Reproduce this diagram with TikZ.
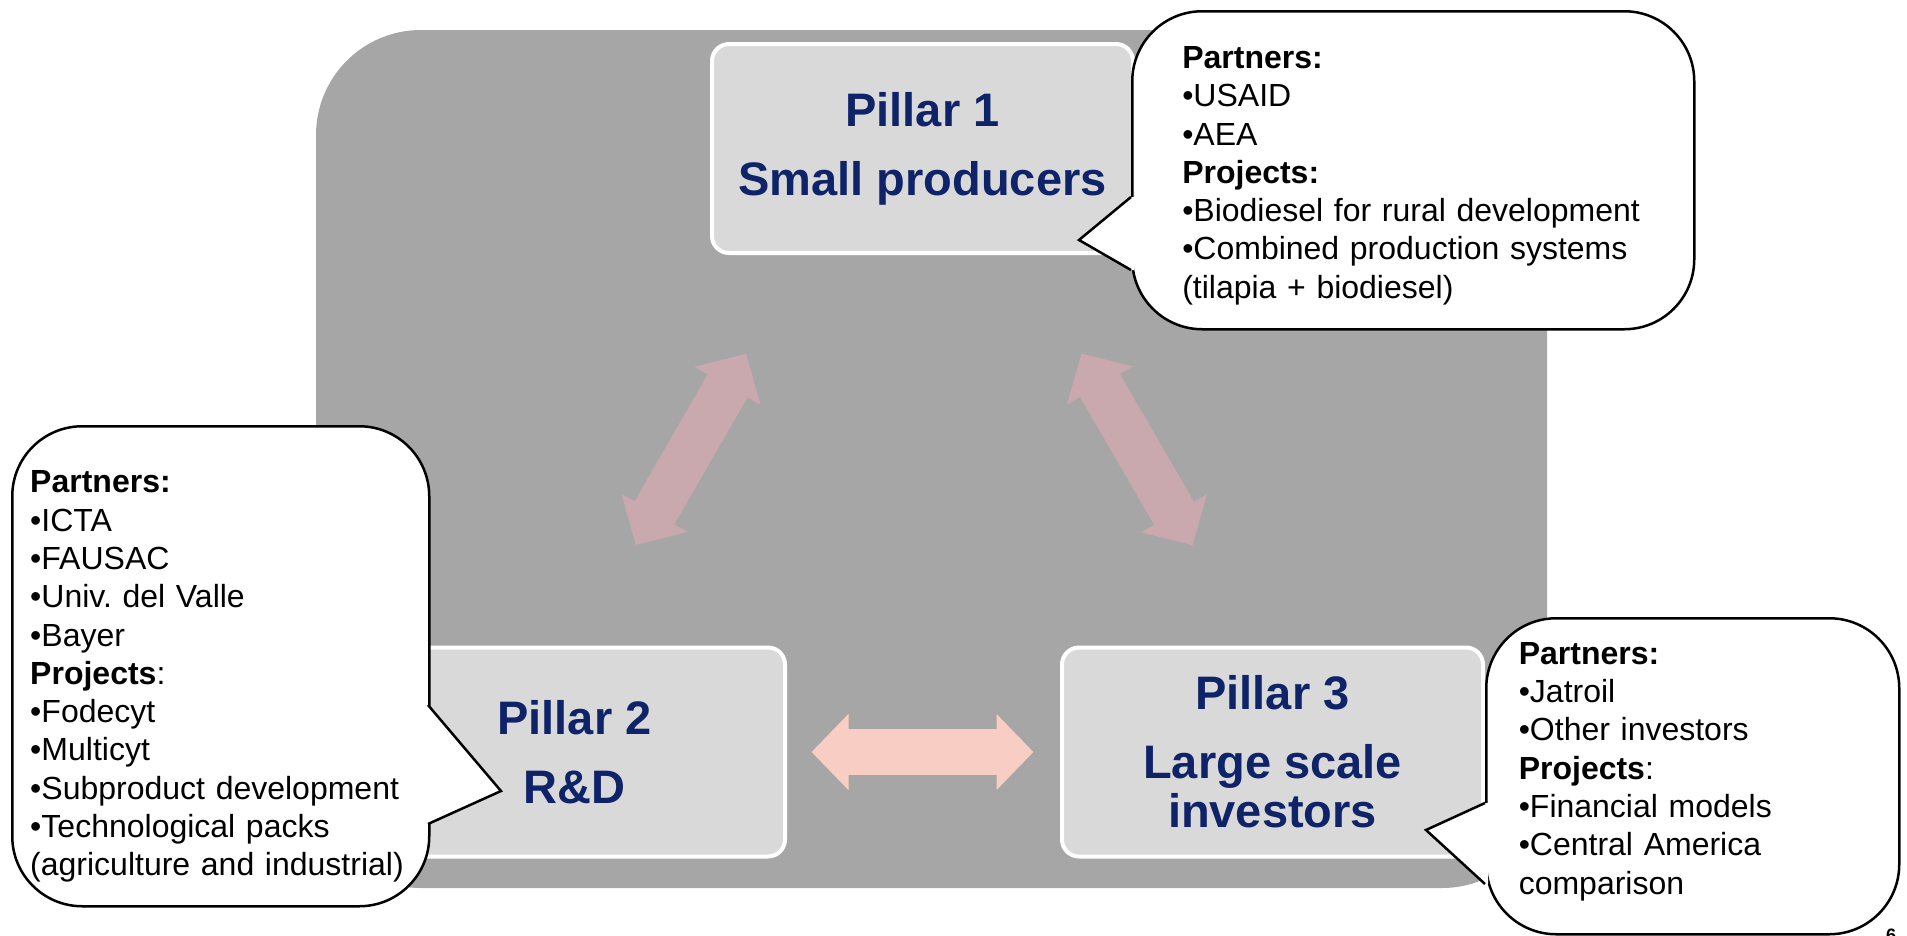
\documentclass[tikz,border=0pt]{standalone}
\usepackage{fontspec}
\setmainfont{Liberation Sans}
\usetikzlibrary{arrows.meta}
\frenchspacing

\definecolor{slidegray}{RGB}{166,166,166}
\definecolor{pillarfill}{RGB}{217,217,217}
\definecolor{pillartext}{RGB}{14,35,104}
\definecolor{linkpink}{RGB}{201,168,174}
\definecolor{linkpeach}{RGB}{248,205,195}

\tikzset{
  pillar/.style={fill=pillarfill, draw=white, line width=4pt, rounded corners=17pt,
    minimum width=421pt, minimum height=209pt, align=center, text=pillartext,
    font=\bfseries\fontsize{47}{69}\selectfont},
  callout/.style={draw=black, fill=white, line width=2.5pt, rounded corners=70pt,
    anchor=north west, align=left, inner ysep=0pt, font=\fontsize{32}{38.3}\selectfont},
  pointer/.style={draw=black, line width=2.5pt},
  linkarrow/.style={line width=46pt,
    {Triangle[length=37pt,width=74pt]}-{Triangle[length=37pt,width=74pt]},
    shorten <=237pt, shorten >=239pt},
}

\begin{document}
\begin{tikzpicture}[x=1pt,y=-1pt]
    \useasboundingbox (0,0) rectangle (1907,935);
    \fill[white] (0,0) rectangle (1907,935);
    \fill[slidegray, rounded corners=105pt] (316,30) rectangle (1547,888);

    % pillars
    \node[pillar] (p1) at (922.5,148.5) {Pillar 1\\Small producers};
    \node[pillar] (p2) at (574.5,752) {Pillar 2\\R\&D};
    \node[pillar] (p3) at (1272.5,752) {Pillar 3\\Large scale\\[-20pt]investors};

    % links between pillars
    \draw[linkarrow, linkpink] ([xshift=-58pt]p1.center) -- ([xshift=-58pt]p2.center);
    \draw[linkarrow, linkpink] ([xshift=40pt]p1.center) -- ([xshift=40pt]p3.center);
    \draw[linkarrow, linkpeach] (p2.center) -- (p3.center);

    % callouts
    \node[callout, minimum width=562pt, minimum height=318pt, inner xsep=50pt, text width=462pt] (c1) at (1131,10)
        {\rule{0pt}{32.9pt}\textbf{Partners:}\\
         •USAID\\
         •AEA\\
         \textbf{Projects:}\\
         •Biodiesel for rural development\\
         •Combined production systems\\
         (tilapia + biodiesel)};
    \coordinate (c1a) at (1131,197);
    \coordinate (c1t) at (1079,240);
    \coordinate (c1b) at (1131,270);
    \fill[white] ([xshift=3pt]c1a) -- (c1a) -- (c1t) -- (c1b) -- ([xshift=3pt]c1b) -- cycle;
    \draw[pointer] (c1a) -- (c1t) -- (c1b);

    \node[callout, minimum width=417pt, minimum height=480pt, inner xsep=18pt, text width=381pt] (c2) at (11,425)
        {\rule{0pt}{42.9pt}\textbf{Partners:}\\
         •ICTA\\
         •FAUSAC\\
         •Univ. del Valle\\
         •Bayer\\
         \textbf{Projects}:\\
         •Fodecyt\\
         •Multicyt\\
         •Subproduct development\\
         •Technological packs\\
         (agriculture and industrial)};
    \coordinate (c2a) at (428,705);
    \coordinate (c2t) at (501,791);
    \coordinate (c2b) at (428,824);
    \fill[white] ([xshift=-3pt]c2a) -- (c2a) -- (c2t) -- (c2b) -- ([xshift=-3pt]c2b) -- cycle;
    \draw[pointer] (c2a) -- (c2t) -- (c2b);

    \node[callout, minimum width=413pt, minimum height=316pt, inner xsep=32.5pt, text width=348pt] (c3) at (1485,617)
        {\textbf{Partners:}\\
         •Jatroil\\
         •Other investors\\
         \textbf{Projects}:\\
         •Financial models\\
         •Central America\\
         comparison\rule[-16.1pt]{0pt}{0pt}};
    \coordinate (c3a) at (1485,803);
    \coordinate (c3t) at (1426,830);
    \coordinate (c3b) at (1485,884);
    \fill[white] ([xshift=3pt]c3a) -- (c3a) -- (c3t) -- (c3b) -- ([xshift=3pt]c3b) -- cycle;
    \draw[pointer] (c3a) -- (c3t) -- (c3b);

    % slide number
    \node[font=\bfseries\fontsize{18}{18}\selectfont, anchor=north, inner sep=0pt] (pg) at (1891,929) {6};
\end{tikzpicture}
\end{document}
